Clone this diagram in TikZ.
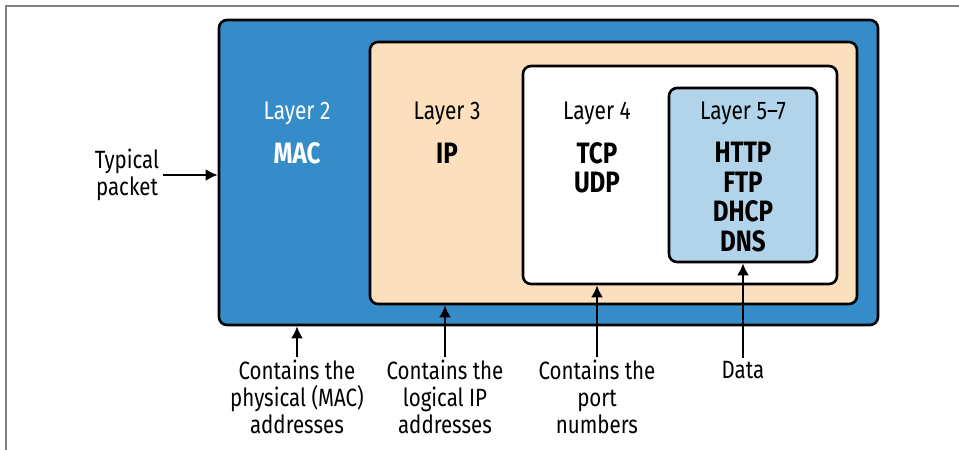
\documentclass[tikz,border=0pt]{standalone}
\usepackage{fontspec}
\setmainfont{Fira Sans}[FakeStretch=0.82]
\usetikzlibrary{arrows.meta}
\definecolor{macblue}{HTML}{358CC9}
\definecolor{ipbeige}{HTML}{FCDFBD}
\definecolor{appblue}{HTML}{B2D4EA}
\definecolor{framegray}{HTML}{808080}
\begin{document}
\begin{tikzpicture}
[x=1pt,y=-1pt,
  boxdecorate/.style={draw,line width=2.6pt,rounded corners=8pt,inner sep=0pt},%
  layerdecorate/.style={font=\fontsize{25.5}{28}\selectfont},%
  protodecorate/.style={font=\bfseries\fontsize{29.5}{29.5}\selectfont,align=center},%
  labeldecorate/.style={font=\fontsize{25}{27}\selectfont,align=center},%
  arrowdecorate/.style={-{Latex[length=12pt,width=12pt]},line width=2.3pt}]
\useasboundingbox (0,0) rectangle (959,450);
%%% frame
\draw[framegray,line width=1.2pt] (6,450) -- (6,6) -- (959,6);
%
%%% nested boxes
% nodes or boxes
\node (l2) at (548.5,172.5) [boxdecorate,fill=macblue,minimum width=659pt,minimum height=305pt] {};
\node (l3) at (613.5,173) [boxdecorate,fill=ipbeige,minimum width=487pt,minimum height=262pt] {};
\node (l4) at (680,175) [boxdecorate,fill=white,minimum width=314pt,minimum height=218pt] {};
\node (l57) at (743,175) [boxdecorate,fill=appblue,minimum width=148pt,minimum height=174pt] {};
% layer texts
\node (t2) at (297,113) [layerdecorate,text=white] {Layer 2};
\node (p2) at (297,153) [protodecorate,text=white] {MAC};
\node (t3) at (447,113) [layerdecorate] {Layer 3};
\node (p3) at (447,153) [protodecorate] {IP};
\node (t4) at (597,113) [layerdecorate] {Layer 4};
\node (p4) at (597,168) [protodecorate] {TCP\\UDP};
\node (t57) at (743,113) [layerdecorate] {Layer 5--7};
\node (p57) at (743,197) [protodecorate] {HTTP\\FTP\\DHCP\\DNS};
%
%%% labels and arrows
% nodes or labels
\node (pkt) at (127,175) [labeldecorate] {Typical\\packet};
\node (mac) at (297,397) [labeldecorate] {Contains the\\physical (MAC)\\addresses};
\node (ip) at (445,397) [labeldecorate] {Contains the\\logical IP\\addresses};
\node (port) at (597,397) [labeldecorate] {Contains the\\port\\numbers};
\node (data) at (743,370) [labeldecorate] {Data};
% edges or arrows
\path
(pkt.east) edge[arrowdecorate] node {} (pkt.east -| l2.west)
(mac.north) edge[arrowdecorate] node {} (mac.north |- l2.south)
(ip.north) edge[arrowdecorate] node {} (ip.north |- l3.south)
(port.north) edge[arrowdecorate] node {} (port.north |- l4.south)
(data.north) edge[arrowdecorate] node {} (data.north |- l57.south);
\end{tikzpicture}
\end{document}
